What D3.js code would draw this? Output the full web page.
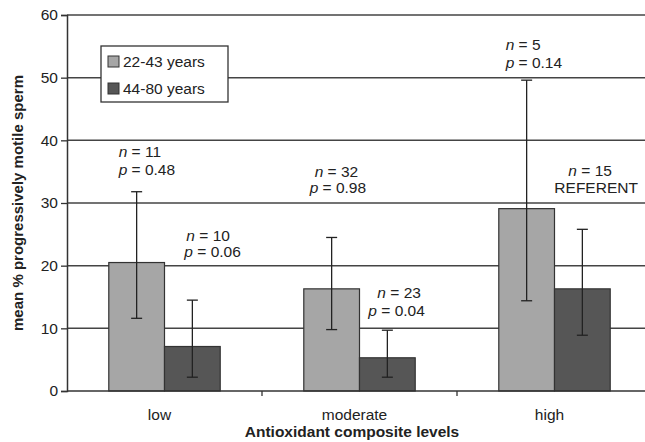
<!DOCTYPE html>
<html>
<head>
<meta charset="utf-8">
<script src="https://cdn.jsdelivr.net/npm/d3@7"></script>
<style>
  body { margin: 0; background: #fff; }
  text { font-family: "Liberation Sans", Arial, sans-serif; fill: #222; }
</style>
</head>
<body>
<div id="chart"></div>
<script>
const categories = ["low", "moderate", "high"];
const seriesNames = ["22-43 years", "44-80 years"];

const youngMean = [20.5, 16.3, 29.1];
const youngLow = [11.6, 9.8, 14.4];
const youngHigh = [31.8, 24.5, 49.6];

const oldMean = [7.1, 5.3, 16.3];
const oldLow = [2.2, 2.2, 8.9];
const oldHigh = [14.5, 9.7, 25.8];

const youngLine1 = ["11", "32", "5"];
const youngLine2 = ["0.48", "0.98", "0.14"];
const oldLine1 = ["10", "23", "15"];
const oldLine2 = ["0.06", "0.04", "REFERENT"];

const yTicks = [0, 10, 20, 30, 40, 50, 60];

// label offsets from bar centre / error bar top (pixels)
const LABEL_LAYOUT = [
    [{dx1: -18, dx2: -18, dy1: -35, dy2: -17}, {dx1: -6, dx2: -8, dy1: -59, dy2: -43}],
    [{dx1: -17, dx2: -22, dy1: -60, dy2: -44}, {dx1: -10, dx2: -19, dy1: -32, dy2: -14}],
    [{dx1: -21, dx2: -21, dy1: -30, dy2: -12}, {dx1: -14, dx2: -28, dy1: -53, dy2: -36}]
];

const COLORS = ["#a6a6a6", "#565656"];
const FONT = 15.5;
const width = 645, height = 442;
const margin = {left: 67, top: 15, bottom: 51};
const plotRight = 652;

var rows = [];
for (var i = 0; i < categories.length; i++) {
    rows.push({cat: categories[i], s: 0, mean: youngMean[i], lo: youngLow[i], hi: youngHigh[i],
        l1: youngLine1[i], l2: youngLine2[i], layout: LABEL_LAYOUT[i][0]});
    rows.push({cat: categories[i], s: 1, mean: oldMean[i], lo: oldLow[i], hi: oldHigh[i],
        l1: oldLine1[i], l2: oldLine2[i], layout: LABEL_LAYOUT[i][1]});
}

var svg = d3.select("#chart").append("svg")
    .attr("width", width)
    .attr("height", height);

var x = d3.scaleBand()
    .domain(categories)
    .range([margin.left, plotRight]);

var xSeries = d3.scaleBand()
    .domain([0, 1])
    .range([0, x.bandwidth()])
    .paddingOuter(0.75)
    .paddingInner(0);

var y = d3.scaleLinear()
    .domain([0, 60])
    .range([height - margin.bottom, margin.top]);

// gridlines
svg.append("g").selectAll("line")
    .data(yTicks.filter(function(d) { return d > 0; }))
    .enter().append("line")
    .attr("x1", margin.left).attr("x2", width)
    .attr("y1", function(d) { return y(d); })
    .attr("y2", function(d) { return y(d); })
    .attr("stroke", "#444")
    .attr("stroke-width", 1.5);

// bars
svg.append("g").selectAll("rect")
    .data(rows)
    .enter().append("rect")
    .attr("x", function(d) { return x(d.cat) + xSeries(d.s); })
    .attr("width", xSeries.bandwidth())
    .attr("y", function(d) { return y(d.mean); })
    .attr("height", function(d) { return y(0) - y(d.mean); })
    .attr("fill", function(d) { return COLORS[d.s]; })
    .attr("stroke", "#333")
    .attr("stroke-width", 1.2);

// error bars
var err = svg.append("g").attr("stroke", "#222").attr("stroke-width", 1.3);
rows.forEach(function(d) {
    var cx = x(d.cat) + xSeries(d.s) + xSeries.bandwidth() / 2;
    err.append("line").attr("x1", cx).attr("x2", cx).attr("y1", y(d.lo)).attr("y2", y(d.hi));
    err.append("line").attr("x1", cx - 5.5).attr("x2", cx + 5.5).attr("y1", y(d.lo)).attr("y2", y(d.lo));
    err.append("line").attr("x1", cx - 5.5).attr("x2", cx + 5.5).attr("y1", y(d.hi)).attr("y2", y(d.hi));
});

// annotations
rows.forEach(function(d) {
    var cx = x(d.cat) + xSeries(d.s) + xSeries.bandwidth() / 2;
    var top = y(d.hi);
    var t1 = svg.append("text").attr("x", cx + d.layout.dx1).attr("y", top + d.layout.dy1)
        .attr("font-size", FONT);
    t1.append("tspan").attr("font-style", "italic").text("n");
    t1.append("tspan").text(" = " + d.l1);
    var t2 = svg.append("text").attr("x", cx + d.layout.dx2).attr("y", top + d.layout.dy2)
        .attr("font-size", FONT);
    if (d.l2 == "REFERENT") {
        t2.text(d.l2);
    } else {
        t2.append("tspan").attr("font-style", "italic").text("p");
        t2.append("tspan").text(" = " + d.l2);
    }
});

// y axis
var yAxis = svg.append("g")
    .attr("transform", "translate(" + margin.left + ",0)")
    .call(d3.axisLeft(y).tickValues(yTicks).tickSize(6).tickPadding(3));
yAxis.select(".domain").attr("stroke", "#333").attr("stroke-width", 1.5);
yAxis.selectAll(".tick line").attr("stroke", "#333").attr("stroke-width", 1.3);
yAxis.selectAll(".tick text").attr("font-size", FONT).attr("fill", "#222")
    .attr("font-family", "Liberation Sans, Arial, sans-serif");

// x axis
svg.append("line")
    .attr("x1", margin.left).attr("x2", width)
    .attr("y1", y(0)).attr("y2", y(0))
    .attr("stroke", "#333").attr("stroke-width", 1.5);

svg.append("g").selectAll("line")
    .data(categories.slice(1))
    .enter().append("line")
    .attr("x1", function(d) { return x(d); })
    .attr("x2", function(d) { return x(d); })
    .attr("y1", y(0)).attr("y2", y(0) + 5)
    .attr("stroke", "#333").attr("stroke-width", 1.3);

svg.append("g").selectAll("text")
    .data(categories)
    .enter().append("text")
    .attr("x", function(d) { return x(d) + x.bandwidth() / 2 - 5; })
    .attr("y", y(0) + 29)
    .attr("text-anchor", "middle")
    .attr("font-size", FONT)
    .text(function(d) { return d; });

svg.append("text")
    .attr("x", 352)
    .attr("y", 437)
    .attr("text-anchor", "middle")
    .attr("font-size", 15.5)
    .attr("font-weight", "bold")
    .text("Antioxidant composite levels");

svg.append("text")
    .attr("transform", "translate(23," + ((margin.top + y(0)) / 2) + ") rotate(-90)")
    .attr("text-anchor", "middle")
    .attr("font-size", 15)
    .attr("font-weight", "bold")
    .text("mean % progressively motile sperm");

// legend
var legend = svg.append("g").attr("transform", "translate(101,46)");
legend.append("rect")
    .attr("width", 127).attr("height", 56)
    .attr("fill", "#fff").attr("stroke", "#333").attr("stroke-width", 1.3);
seriesNames.forEach(function(name, i) {
    legend.append("rect")
        .attr("x", 7).attr("y", 10 + i * 27)
        .attr("width", 11).attr("height", 11)
        .attr("fill", COLORS[i]).attr("stroke", "#333").attr("stroke-width", 1);
    legend.append("text")
        .attr("x", 22).attr("y", 21 + i * 27)
        .attr("font-size", FONT)
        .text(name);
});
</script>
</body>
</html>
